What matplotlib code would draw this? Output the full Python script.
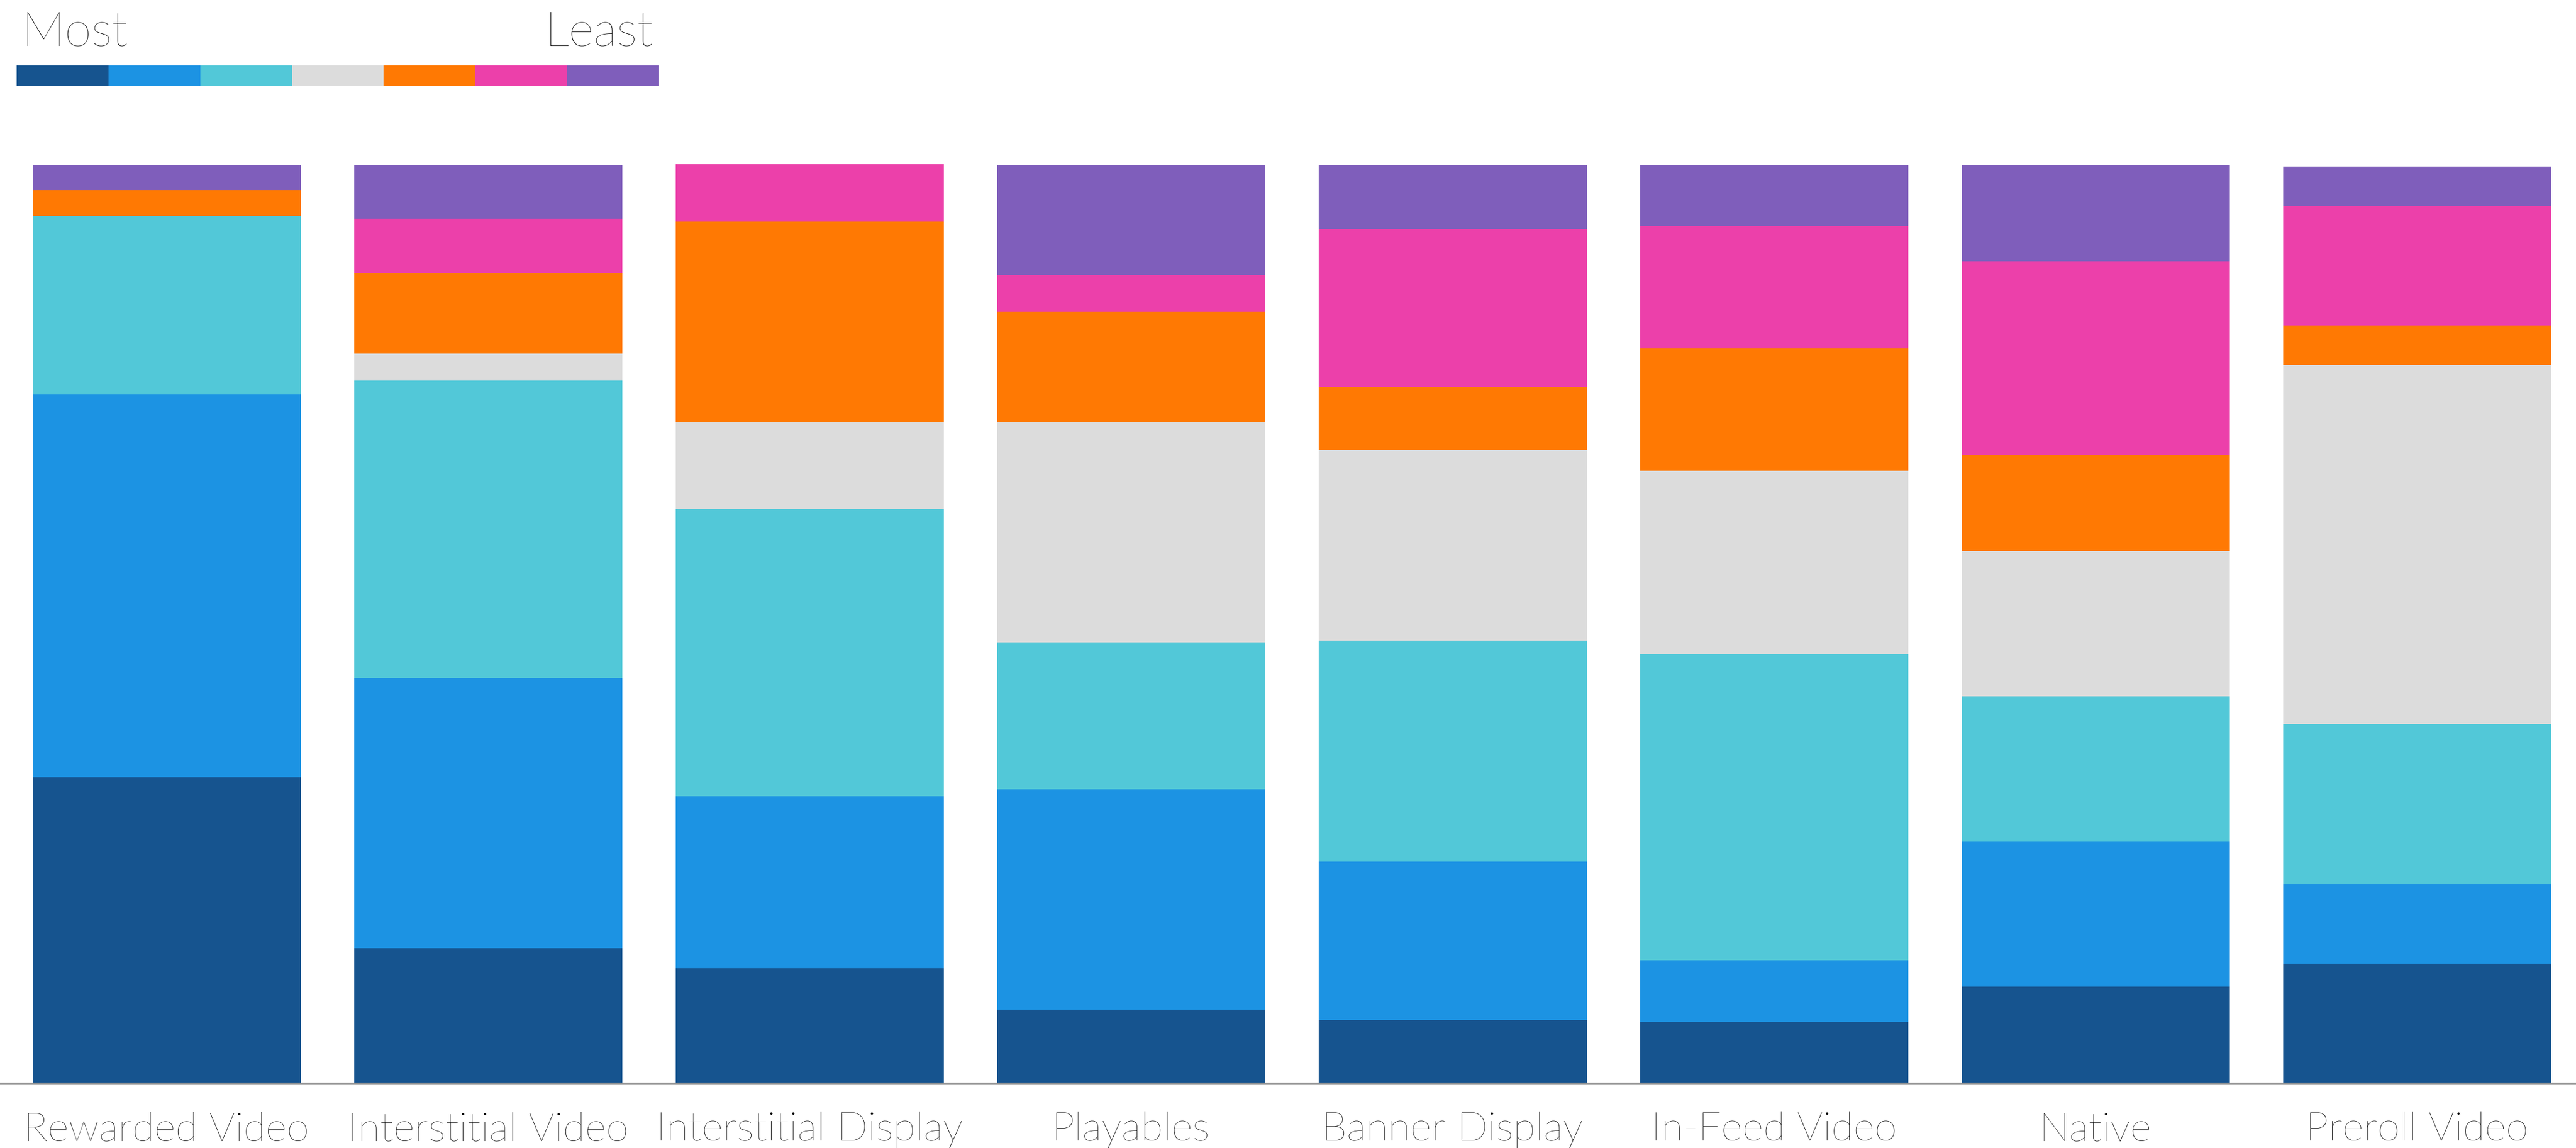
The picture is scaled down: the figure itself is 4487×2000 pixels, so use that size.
import matplotlib
matplotlib.use("Agg")
import matplotlib.pyplot as plt
import matplotlib.transforms as mtransforms
import numpy as np

plt.rcParams['font.family'] = ['Lato', 'DejaVu Sans']

# Ad formats and the share of respondents ranking each from Most (1) to Least (7)
categories = ["Rewarded Video", "Interstitial Video", "Interstitial Display", "Playables",
              "Banner Display", "In-Feed Video", "Native", "Preroll Video"]

rank_1 = [33.3, 14.7, 12.5, 8.0, 6.9, 6.7, 10.5, 13.0]
rank_2 = [41.7, 29.4, 18.75, 24.0, 17.2, 6.7, 15.8, 8.7]
rank_3 = [19.4, 32.4, 31.25, 16.0, 24.1, 33.3, 15.8, 17.4]
rank_4 = [0.0, 2.9, 9.4, 24.0, 20.7, 20.0, 15.8, 39.1]
rank_5 = [2.8, 8.8, 21.9, 12.0, 6.9, 13.3, 10.5, 4.3]
rank_6 = [0.0, 5.9, 6.25, 4.0, 17.2, 13.3, 21.1, 13.0]
rank_7 = [2.8, 5.9, 0.0, 12.0, 6.9, 6.7, 10.5, 4.3]

series = [rank_1, rank_2, rank_3, rank_4, rank_5, rank_6, rank_7]
colors = ["#16548F", "#1C93E3", "#52C8D8", "#DCDCDC", "#FF7903", "#EC40AA", "#7F5EBB"]

W, H = 4487, 2000
fig = plt.figure(figsize=(W / 100, H / 100), dpi=100)

# main stacked-bar axes, spanning the full width
ax = fig.add_axes([0, 113 / H, 1, (1887 - 286) / H])
x = np.arange(len(categories))
bottom = np.zeros(len(categories))
for vals, col in zip(series, colors):
    vals = np.array(vals)
    ax.bar(x, vals, bottom=bottom, width=467 / 560, color=col, linewidth=0)
    bottom += vals

ax.set_xlim(-290 / 560, (W - 290) / 560)
ax.set_ylim(0, bottom.max())
for s in ["top", "left", "right"]:
    ax.spines[s].set_visible(False)
ax.spines["bottom"].set_color("#9A9A9A")
ax.spines["bottom"].set_linewidth(2.2)
ax.set_yticks([])
ax.set_xticks([])

trans = mtransforms.blended_transform_factory(ax.transData, fig.transFigure)
for xi, name in zip(x, categories):
    ax.text(xi, 13 / H, name, transform=trans, ha="center", va="baseline",
            fontsize=51, fontweight="light", color="#000000")

# rank colour key
ax_key = fig.add_axes([29 / W, 1 - 149 / H, 1119 / W, 35 / H])
ax_key.bar(np.arange(7), np.ones(7), width=1, align="edge", color=colors, linewidth=0)
ax_key.set_xlim(0, 7)
ax_key.set_ylim(0, 1)
ax_key.axis("off")

fig.text(37 / W, 1 - 80 / H, "Most", ha="left", va="baseline", fontsize=61, fontweight="light")
fig.text(1138 / W, 1 - 80 / H, "Least", ha="right", va="baseline", fontsize=61, fontweight="light")

fig.savefig("out.png", dpi=100, facecolor="white")
